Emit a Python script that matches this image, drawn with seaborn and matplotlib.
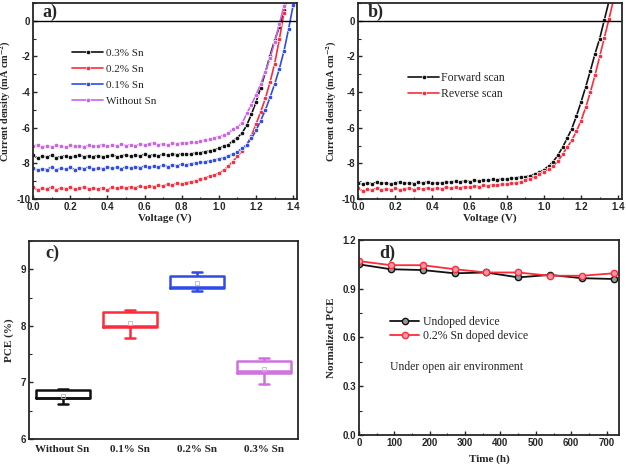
import numpy as np
import pandas as pd
import seaborn as sns
import matplotlib.pyplot as plt
from matplotlib.ticker import MultipleLocator

# ---- data ----
voltage = [0.000, 0.025, 0.050, 0.075, 0.100, 0.125, 0.150, 0.175, 0.200, 0.225,
           0.250, 0.275, 0.300, 0.325, 0.350, 0.375, 0.400, 0.425, 0.450, 0.475,
           0.500, 0.525, 0.550, 0.575, 0.600, 0.625, 0.650, 0.675, 0.700, 0.725,
           0.750, 0.775, 0.800, 0.825, 0.850, 0.875, 0.900, 0.925, 0.950, 0.975,
           1.000, 1.025, 1.050, 1.075, 1.100, 1.125, 1.150, 1.175, 1.200, 1.225,
           1.250, 1.275, 1.300, 1.325, 1.350, 1.375, 1.400, 1.425]

j_sn03 = [-7.55, -7.70, -7.60, -7.65, -7.55, -7.68, -7.62, -7.58, -7.66, -7.60,
          -7.55, -7.64, -7.58, -7.62, -7.56, -7.65, -7.60, -7.55, -7.62, -7.58,
          -7.52, -7.60, -7.55, -7.58, -7.50, -7.56, -7.52, -7.58, -7.50, -7.54,
          -7.48, -7.52, -7.45, -7.50, -7.46, -7.42,
          -7.40, -7.35, -7.30, -7.25, -7.15, -7.05, -6.95, -6.75, -6.55, -6.30,
          -5.85, -5.25, -4.55, -3.75, -2.90, -1.95, -1.10, -0.35, 0.60, 1.60, 2.70, 3.80]
j_sn02 = [-9.35, -9.50, -9.40, -9.45, -9.30, -9.48, -9.38, -9.42, -9.35, -9.46,
          -9.40, -9.32, -9.44, -9.38, -9.45, -9.36, -9.50, -9.34, -9.40, -9.32,
          -9.38, -9.30, -9.36, -9.28, -9.34, -9.25, -9.30, -9.22, -9.28, -9.18,
          -9.22, -9.12, -9.15, -9.08, -9.05, -8.98,
          -8.90, -8.82, -8.72, -8.65, -8.55, -8.40, -8.15, -7.90, -7.60, -7.30,
          -6.95, -6.45, -5.80, -5.10, -4.35, -3.45, -2.40, -1.05, 0.45, 1.90, 3.30, 4.70]
j_sn01 = [-8.25, -8.40, -8.30, -8.35, -8.20, -8.38, -8.28, -8.32, -8.22, -8.35,
          -8.25, -8.30, -8.20, -8.34, -8.26, -8.30, -8.18, -8.28, -8.22, -8.30,
          -8.20, -8.26, -8.18, -8.24, -8.15, -8.22, -8.16, -8.20, -8.12, -8.18,
          -8.10, -8.14, -8.05, -8.10, -8.02, -8.00,
          -7.95, -7.92, -7.85, -7.82, -7.75, -7.68, -7.60, -7.50, -7.35, -7.15,
          -6.95, -6.60, -6.15, -5.60, -5.00, -4.30, -3.55, -2.70, -1.70, -0.45, 0.90, 2.20]
j_nosn = [-7.05, -6.95, -7.10, -7.00, -7.08, -6.98, -7.02, -7.10, -6.97, -7.05,
          -7.00, -7.08, -6.98, -7.04, -7.00, -6.95, -7.03, -6.98, -7.02, -6.94,
          -7.00, -6.96, -7.02, -6.92, -6.96, -6.90, -6.85, -6.95, -6.92, -6.96,
          -6.88, -6.90, -6.85, -6.88, -6.80, -6.82,
          -6.75, -6.70, -6.66, -6.58, -6.50, -6.42, -6.30, -6.10, -5.95, -5.75,
          -5.20, -4.70, -4.15, -3.55, -2.85, -2.10, -1.20, -0.20, 0.85, 2.00, 3.20, 4.40]

j_forward = [-9.10, -9.18, -9.08, -9.15, -9.05, -9.12, -9.08, -9.16, -9.10, -9.05,
             -9.12, -9.08, -9.14, -9.06, -9.10, -9.04, -9.12, -9.08, -9.10, -9.02,
             -9.06, -9.00, -9.05, -8.98, -9.02, -8.96, -9.00, -8.94, -8.96, -8.90,
             -8.92, -8.88, -8.90, -8.84, -8.80, -8.78,
             -8.75, -8.70, -8.60, -8.50, -8.35, -8.15, -7.90, -7.55, -7.10, -6.60,
             -6.05, -5.35, -4.55, -3.70, -2.80, -1.85, -1.00, 0.05, 1.10, 2.20, 3.30, 4.40]
j_reverse = [-9.40, -9.55, -9.45, -9.50, -9.38, -9.52, -9.42, -9.48, -9.40, -9.50,
             -9.44, -9.38, -9.48, -9.40, -9.46, -9.36, -9.44, -9.38, -9.42, -9.34,
             -9.40, -9.32, -9.36, -9.30, -9.34, -9.26, -9.30, -9.24, -9.26, -9.20,
             -9.22, -9.16, -9.18, -9.12, -9.10, -9.04,
             -8.95, -8.85, -8.75, -8.62, -8.48, -8.32, -8.15, -7.88, -7.50, -7.10,
             -6.70, -6.20, -5.60, -4.85, -4.00, -3.05, -2.00, -0.95, 0.10, 1.20, 2.30, 3.40]

# PCE per device group: min, q1, median, q3, max
groups = ['Without Sn', '0.1% Sn', '0.2% Sn', '0.3% Sn']
pce_nosn = [6.62, 6.72, 6.73, 6.86, 6.88]
pce_sn01 = [7.78, 7.98, 8.00, 8.24, 8.28]
pce_sn02 = [8.62, 8.67, 8.69, 8.89, 8.95]
pce_sn03 = [6.98, 7.17, 7.21, 7.37, 7.44]

hours = [0, 90, 180, 270, 360, 450, 540, 630, 720]
pce_undoped = [1.05, 1.02, 1.015, 0.995, 1.00, 0.97, 0.985, 0.965, 0.96]
pce_doped = [1.07, 1.045, 1.045, 1.02, 1.00, 1.00, 0.98, 0.98, 0.995]

# ---- style ----
sns.set_style('ticks')
plt.rcParams['font.family'] = ['Liberation Serif', 'DejaVu Serif']
plt.rcParams['mathtext.fontset'] = 'stix'
plt.rcParams['axes.unicode_minus'] = False
plt.rcParams['xtick.direction'] = 'in'
plt.rcParams['ytick.direction'] = 'in'
plt.rcParams['axes.linewidth'] = 1.3

black = '#111111'
red = '#ff2a3a'
blue = '#2f4be8'
violet = '#c864e6'

fig = plt.figure(figsize=(6.26, 4.69), dpi=100)
ax_a = fig.add_axes([0.0527, 0.5757, 0.4217, 0.418])
ax_b = fig.add_axes([0.5719, 0.5757, 0.4217, 0.418])
ax_c = fig.add_axes([0.0463, 0.0640, 0.4297, 0.4221])
ax_d = fig.add_axes([0.5735, 0.0725, 0.4153, 0.4158])

label_font = dict(family='Liberation Serif', weight='bold', size=8)


def style_ticks(ax):
    for lab in ax.get_xticklabels() + ax.get_yticklabels():
        lab.set_fontfamily('Liberation Sans')
        lab.set_fontweight('bold')
        lab.set_fontsize(7)
    ax.tick_params(which='major', length=3, width=1, pad=2)
    ax.tick_params(which='minor', length=1.8, width=0.8)


def jv_axes(ax, letter, ylab_x):
    ax.axhline(0, color='black', lw=1)
    ax.set_xlim(0, 1.42)
    ax.set_ylim(-10, 1)
    ax.xaxis.set_major_locator(MultipleLocator(0.2))
    ax.xaxis.set_minor_locator(MultipleLocator(0.1))
    ax.yaxis.set_major_locator(MultipleLocator(2))
    ax.yaxis.set_minor_locator(MultipleLocator(1))
    ax.set_xlabel('Voltage (V)', fontdict=label_font, labelpad=1)
    ax.set_ylabel(r'Current density (mA cm$^{\mathbf{-2}}$)', family='Liberation Serif',
                  weight='bold', size=7.4)
    ax.yaxis.set_label_coords(ylab_x, 0.5)
    ax.text(0.035, 0.95, letter, transform=ax.transAxes, ha='left', va='center',
            family='Liberation Serif', weight='bold', size=13)
    style_ticks(ax)


# a) J-V for different Sn content
for jv, col, lab in [(j_sn03, black, '0.3% Sn'), (j_sn02, red, '0.2% Sn'),
                     (j_sn01, blue, '0.1% Sn'), (j_nosn, violet, 'Without Sn')]:
    sns.lineplot(x=voltage, y=jv, ax=ax_a, color=col, lw=1.2, marker='o', markersize=3.2,
                 markeredgewidth=0.5, label=lab)
jv_axes(ax_a, 'a)', -0.074)
ax_a.legend(loc='upper left', bbox_to_anchor=(0.11, 0.82), frameon=False, handlelength=2.8,
            labelspacing=0.55, handletextpad=0.3, prop=dict(family='Liberation Serif', size=8))

# b) forward / reverse scan
sns.lineplot(x=voltage, y=j_forward, ax=ax_b, color=black, lw=1.2, marker='o', markersize=3.2,
             markeredgewidth=0.5, label='Forward scan')
sns.lineplot(x=voltage, y=j_reverse, ax=ax_b, color=red, lw=1.2, marker='o', markersize=3.2,
             markeredgewidth=0.5, label='Reverse scan')
jv_axes(ax_b, 'b)', -0.072)
ax_b.legend(loc='upper left', bbox_to_anchor=(0.15, 0.70), frameon=False, handlelength=2.6,
            labelspacing=0.3, handletextpad=0.2, prop=dict(family='Liberation Serif', size=8.5))

# c) PCE statistics
pce = pd.DataFrame({
    'group': np.repeat(groups, 5),
    'pce': pce_nosn + pce_sn01 + pce_sn02 + pce_sn03,
})
box_colors = [black, red, blue, '#d070e0']
sns.boxplot(data=pce, x='group', y='pce', hue='group', order=groups, hue_order=groups,
            palette=box_colors, fill=False, width=0.8, linewidth=1.8, whis=(0, 100),
            legend=False, showmeans=True, capwidths=0.15, ax=ax_c,
            meanprops=dict(marker='s', markersize=2.5, markerfacecolor='none',
                           markeredgecolor='#bbbbbb', markeredgewidth=0.6))
ax_c.set_xlim(-0.5, 3.5)
ax_c.set_ylim(6, 9.5)
ax_c.yaxis.set_major_locator(MultipleLocator(1))
ax_c.yaxis.set_minor_locator(MultipleLocator(0.5))
ax_c.set_xlabel('')
ax_c.set_ylabel('PCE (%)', fontdict=label_font)
ax_c.yaxis.set_label_coords(-0.056, 0.5)
style_ticks(ax_c)
ax_c.tick_params(axis='x', length=0, pad=4)
for lab in ax_c.get_xticklabels():
    lab.set_fontfamily('Liberation Serif')
    lab.set_fontsize(8)
ax_c.text(0.06, 0.94, 'c)', transform=ax_c.transAxes, ha='left', va='center',
          family='Liberation Serif', weight='bold', size=13)

# d) stability
sns.lineplot(x=hours, y=pce_undoped, ax=ax_d, color=black, lw=1.3, marker='o', markersize=4.5,
             markerfacecolor='#999999', markeredgecolor=black, markeredgewidth=1,
             label='Undoped device')
sns.lineplot(x=hours, y=pce_doped, ax=ax_d, color=red, lw=1.3, marker='o', markersize=4.5,
             markerfacecolor='#ff9aa5', markeredgecolor=red, markeredgewidth=1,
             label='0.2% Sn doped device')
ax_d.set_xlim(0, 735)
ax_d.set_ylim(0, 1.2)
ax_d.xaxis.set_major_locator(MultipleLocator(100))
ax_d.xaxis.set_minor_locator(MultipleLocator(50))
ax_d.yaxis.set_major_locator(MultipleLocator(0.3))
ax_d.yaxis.set_minor_locator(MultipleLocator(0.15))
ax_d.set_xlabel('Time (h)', fontdict=label_font, labelpad=5)
ax_d.set_ylabel('Normalized PCE', fontdict=label_font)
ax_d.yaxis.set_label_coords(-0.088, 0.5)
style_ticks(ax_d)
ax_d.legend(loc='upper left', bbox_to_anchor=(0.08, 0.665), frameon=False, handlelength=2.4,
            labelspacing=0.2, handletextpad=0.4, prop=dict(family='Liberation Serif', size=8.5))
ax_d.text(0.118, 0.35, 'Under open air environment', transform=ax_d.transAxes, ha='left',
          va='center', family='Liberation Serif', size=8.5)
ax_d.text(0.077, 0.933, 'd)', transform=ax_d.transAxes, ha='left', va='center',
          family='Liberation Serif', weight='bold', size=13)

fig.savefig('out.png', dpi=100)
